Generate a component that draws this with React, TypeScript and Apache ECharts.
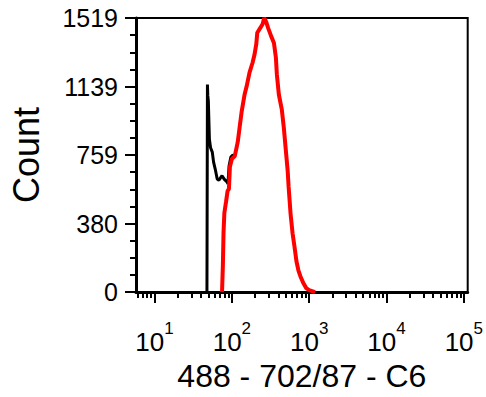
import React, { useEffect, useRef } from "react";
import * as echarts from "echarts";

// Y-axis tick labels (Count)
const yTicks = [0, 380, 759, 1139, 1519];
// X-axis decades (exponents of 10)
const xDecades = [1, 2, 3, 4, 5];
// Minor tick multipliers within each decade
const minorMult = [2, 3, 4, 5, 6, 7, 8, 9];

// Black histogram (ungated)
const blackX = [47.6, 48.3, 48.8, 49.6, 51.2, 53, 55.8, 58, 60.9, 64.6, 68, 74.6, 80, 86.5, 89, 92, 97, 103, 109];
const blackY = [0, 1150, 1090, 1060, 848, 800, 776, 720, 682, 627, 620, 645, 625, 611, 600, 700, 748, 760, 754];

// Red histogram (gated)
const redX = [74.6, 76.5, 78, 80, 84, 88, 91.6, 94.3, 100, 109, 119, 126, 134, 146, 155, 169, 185, 196, 207, 213, 233, 250, 262, 278, 294, 321, 350, 371, 382, 405, 442, 469, 497, 527, 542, 574, 610, 645, 684, 725, 769, 839, 916, 997, 1191];
const redY = [0, 150, 330, 440, 500, 560, 572, 694, 738, 754, 831, 914, 1002, 1095, 1139, 1216, 1271, 1315, 1376, 1437, 1464, 1486, 1519, 1497, 1464, 1420, 1381, 1299, 1205, 1095, 1013, 914, 793, 672, 583, 435, 325, 253, 171, 121, 88, 50, 22, 11, 0];

const FONT = "Liberation Sans, Arial, sans-serif";
const X_MIN = 0.76;
const X_MAX = 5.05;
const Y_MAX = 1519;

export default function App() {
  const ref = useRef<HTMLDivElement>(null);
  useEffect(() => {
    if (!ref.current) return;
    const chart = echarts.init(ref.current, null, { renderer: "svg" });
    const minorVals: number[] = [];
    for (let d = 0; d <= 5; d++) {
      for (const m of minorMult) {
        const v = d + Math.log10(m);
        if (v > X_MIN && v < X_MAX) minorVals.push(v);
      }
    }
    const toPts = (xs: number[], ys: number[]) => xs.map((x, i) => [Math.log10(x), ys[i]]);
    const step = Y_MAX / 4;
    chart.setOption({
      animation: false,
      backgroundColor: "#fff",
      grid: {
        left: 134,
        right: 13,
        top: 18,
        bottom: 103,
        show: true,
        borderColor: "#000",
        borderWidth: 2,
        backgroundColor: "transparent",
      },
      xAxis: [
        {
          type: "value",
          position: "bottom",
          min: X_MIN,
          max: X_MAX,
          splitLine: { show: false },
          axisLine: { show: true, onZero: false, lineStyle: { color: "#000", width: 3 } },
          axisTick: { show: true, customValues: xDecades, length: 11, lineStyle: { color: "#000", width: 2 } },
          axisLabel: {
            customValues: xDecades,
            margin: 28,
            formatter: (v: number) => `{b|10}{s|${Math.round(v)}}`,
            rich: {
              b: { fontSize: 26, fontFamily: FONT, color: "#000", lineHeight: 44 },
              s: { fontSize: 17, fontFamily: FONT, color: "#000", lineHeight: 17, verticalAlign: "top" },
            },
          },
          name: "488 - 702/87 - C6",
          nameLocation: "middle",
          nameGap: 58,
          nameTextStyle: { fontSize: 32, fontFamily: FONT, color: "#000" },
        },
        {
          type: "value",
          position: "bottom",
          min: X_MIN,
          max: X_MAX,
          splitLine: { show: false },
          axisLine: { show: false, onZero: false },
          axisTick: { show: true, customValues: minorVals, length: 6, lineStyle: { color: "#000", width: 2 } },
          axisLabel: { show: false },
        },
      ],
      yAxis: {
        type: "value",
        min: 0,
        max: Y_MAX,
        interval: step,
        splitLine: { show: false },
        axisLine: { show: true, lineStyle: { color: "#000", width: 3 } },
        axisTick: { show: true, length: 11, lineStyle: { color: "#000", width: 2 } },
        minorTick: { show: true, splitNumber: 4, length: 6, lineStyle: { color: "#000", width: 2 } },
        axisLabel: {
          margin: 18,
          fontSize: 25,
          fontFamily: FONT,
          color: "#000",
          formatter: (v: number) => String(yTicks[Math.round(v / step)]),
        },
        name: "Count",
        nameLocation: "middle",
        nameGap: 92,
        nameTextStyle: { fontSize: 36, fontFamily: FONT, color: "#000" },
      },
      series: [
        {
          type: "line",
          data: toPts(blackX, blackY),
          showSymbol: false,
          lineStyle: { color: "#000", width: 3 },
          z: 2,
        },
        {
          type: "line",
          data: toPts(redX, redY),
          showSymbol: false,
          lineStyle: { color: "#ff0000", width: 4 },
          z: 3,
        },
      ],
    });
    return () => chart.dispose();
  }, []);
  return (
    <div
      ref={ref}
      style={{ position: "fixed", left: 0, top: 0, width: 486, height: 397 }}
    />
  );
}
